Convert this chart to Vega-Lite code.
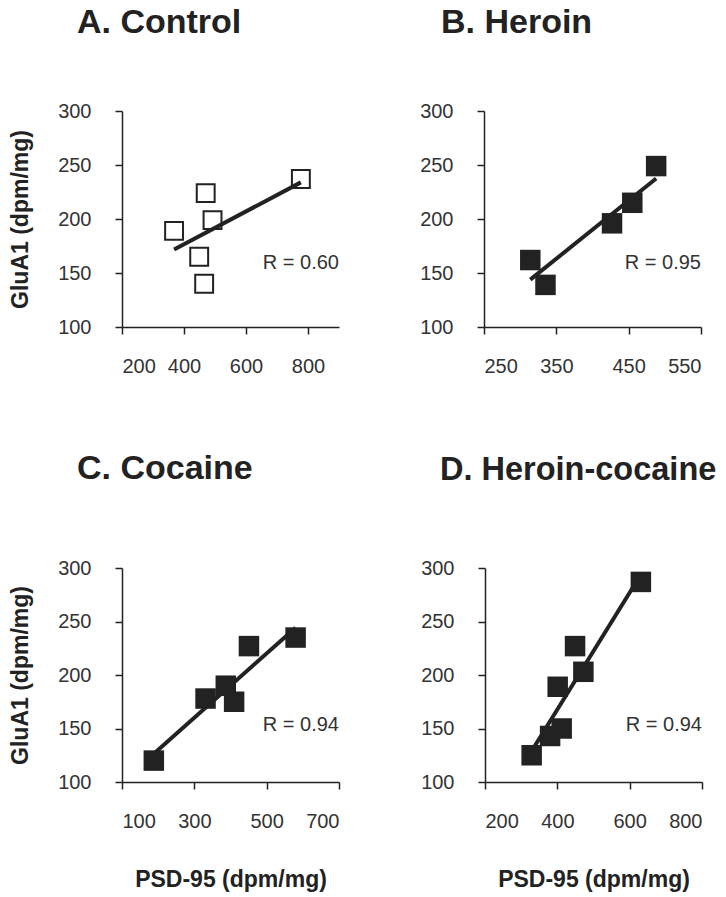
{
  "$schema": "https://vega.github.io/schema/vega-lite/v6.json",
  "background": "white",
  "padding": {"left": 9, "top": 6, "right": 4, "bottom": 2},
  "config": {
    "font": "Liberation Sans",
    "view": {"stroke": null},
    "axis": {
      "grid": false,
      "labelFont": "Liberation Sans",
      "labelFontSize": 20,
      "labelColor": "#333333",
      "domainColor": "#222222",
      "domainWidth": 1.5,
      "tickColor": "#222222",
      "tickWidth": 1.5,
      "tickSize": 7,
      "titleFont": "Liberation Sans",
      "titleFontSize": 23,
      "titleFontWeight": "bold",
      "titleColor": "#222222"
    },
    "title": {"font": "Liberation Sans", "fontSize": 34, "fontWeight": "bold", "color": "#222222", "anchor": "start", "frame": "group"},
    "concat": {"spacing": 80}
  },
  "spacing": 76,
  "vconcat": [
    {
      "hconcat": [
        {
          "width": 217, "height": 216,
          "title": {"text": "A. Control", "dx": -45, "offset": 61},
          "data": {"values": [
            {"psd": 368, "glu": 189}, {"psd": 470, "glu": 224}, {"psd": 492, "glu": 199},
            {"psd": 449, "glu": 165}, {"psd": 465, "glu": 140}, {"psd": 777, "glu": 237}
          ]},
          "encoding": {
            "x": {"field": "psd", "type": "quantitative", "scale": {"domain": [200, 900], "nice": false, "zero": false},
                  "axis": {"values": [200, 400, 600, 800], "title": null, "labelPadding": 22}},
            "y": {"field": "glu", "type": "quantitative", "scale": {"domain": [100, 300], "nice": false, "zero": false},
                  "axis": {"values": [100, 150, 200, 250, 300], "title": "GluA1 (dpm/mg)", "labelPadding": 24, "titlePadding": 25}}
          },
          "layer": [
            {"mark": {"type": "point", "shape": "square", "size": 320, "filled": false, "stroke": "#222222", "strokeWidth": 2, "opacity": 1}},
            {"transform": [{"regression": "glu", "on": "psd"}], "mark": {"type": "line", "color": "#222222", "strokeWidth": 4}},
            {"data": {"values": [{"psd": 900, "glu": 159, "label": "R = 0.60"}]},
             "mark": {"type": "text", "align": "right", "baseline": "middle", "fontSize": 20, "color": "#333333"},
             "encoding": {"text": {"field": "label"}}}
          ]
        },
        {
          "width": 217, "height": 216,
          "title": {"text": "B. Heroin", "dx": -43, "offset": 61},
          "data": {"values": [
            {"psd": 314, "glu": 162}, {"psd": 335, "glu": 139}, {"psd": 427, "glu": 196},
            {"psd": 455, "glu": 215}, {"psd": 488, "glu": 249}
          ]},
          "encoding": {
            "x": {"field": "psd", "type": "quantitative", "scale": {"domain": [250, 550], "nice": false, "zero": false},
                  "axis": {"values": [250, 350, 450, 550], "title": null, "labelPadding": 22}},
            "y": {"field": "glu", "type": "quantitative", "scale": {"domain": [100, 300], "nice": false, "zero": false},
                  "axis": {"values": [100, 150, 200, 250, 300], "title": null, "labelPadding": 24}}
          },
          "layer": [
            {"mark": {"type": "point", "shape": "square", "size": 420, "filled": true, "color": "#222222", "opacity": 1}},
            {"transform": [{"regression": "glu", "on": "psd"}], "mark": {"type": "line", "color": "#222222", "strokeWidth": 4}},
            {"data": {"values": [{"psd": 550, "glu": 159, "label": "R = 0.95"}]},
             "mark": {"type": "text", "align": "right", "baseline": "middle", "fontSize": 20, "color": "#333333"},
             "encoding": {"text": {"field": "label"}}}
          ]
        }
      ]
    },
    {
      "hconcat": [
        {
          "width": 217, "height": 214,
          "title": {"text": "C. Cocaine", "dx": -45, "offset": 72},
          "data": {"values": [
            {"psd": 188, "glu": 120}, {"psd": 331, "glu": 178}, {"psd": 387, "glu": 190},
            {"psd": 410, "glu": 175}, {"psd": 451, "glu": 227}, {"psd": 580, "glu": 235}
          ]},
          "encoding": {
            "x": {"field": "psd", "type": "quantitative", "scale": {"domain": [100, 700], "nice": false, "zero": false},
                  "axis": {"values": [100, 300, 500, 700], "title": "PSD-95 (dpm/mg)", "labelPadding": 22, "titlePadding": 37}},
            "y": {"field": "glu", "type": "quantitative", "scale": {"domain": [100, 300], "nice": false, "zero": false},
                  "axis": {"values": [100, 150, 200, 250, 300], "title": "GluA1 (dpm/mg)", "labelPadding": 24, "titlePadding": 25}}
          },
          "layer": [
            {"mark": {"type": "point", "shape": "square", "size": 420, "filled": true, "color": "#222222", "opacity": 1}},
            {"transform": [{"regression": "glu", "on": "psd"}], "mark": {"type": "line", "color": "#222222", "strokeWidth": 4}},
            {"data": {"values": [{"psd": 700, "glu": 153, "label": "R = 0.94"}]},
             "mark": {"type": "text", "align": "right", "baseline": "middle", "fontSize": 20, "color": "#333333"},
             "encoding": {"text": {"field": "label"}}}
          ]
        },
        {
          "width": 217, "height": 214,
          "title": {"text": "D. Heroin-cocaine", "dx": -45, "offset": 72, "fontSize": 32.5},
          "data": {"values": [
            {"psd": 329, "glu": 125}, {"psd": 380, "glu": 143}, {"psd": 412, "glu": 150},
            {"psd": 401, "glu": 189}, {"psd": 472, "glu": 203}, {"psd": 449, "glu": 227},
            {"psd": 631, "glu": 287}
          ]},
          "encoding": {
            "x": {"field": "psd", "type": "quantitative", "scale": {"domain": [200, 800], "nice": false, "zero": false},
                  "axis": {"values": [200, 400, 600, 800], "title": "PSD-95 (dpm/mg)", "labelPadding": 22, "titlePadding": 37}},
            "y": {"field": "glu", "type": "quantitative", "scale": {"domain": [100, 300], "nice": false, "zero": false},
                  "axis": {"values": [100, 150, 200, 250, 300], "title": null, "labelPadding": 24}}
          },
          "layer": [
            {"mark": {"type": "point", "shape": "square", "size": 420, "filled": true, "color": "#222222", "opacity": 1}},
            {"transform": [{"regression": "glu", "on": "psd"}], "mark": {"type": "line", "color": "#222222", "strokeWidth": 4}},
            {"data": {"values": [{"psd": 800, "glu": 153, "label": "R = 0.94"}]},
             "mark": {"type": "text", "align": "right", "baseline": "middle", "fontSize": 20, "color": "#333333"},
             "encoding": {"text": {"field": "label"}}}
          ]
        }
      ]
    }
  ]
}
